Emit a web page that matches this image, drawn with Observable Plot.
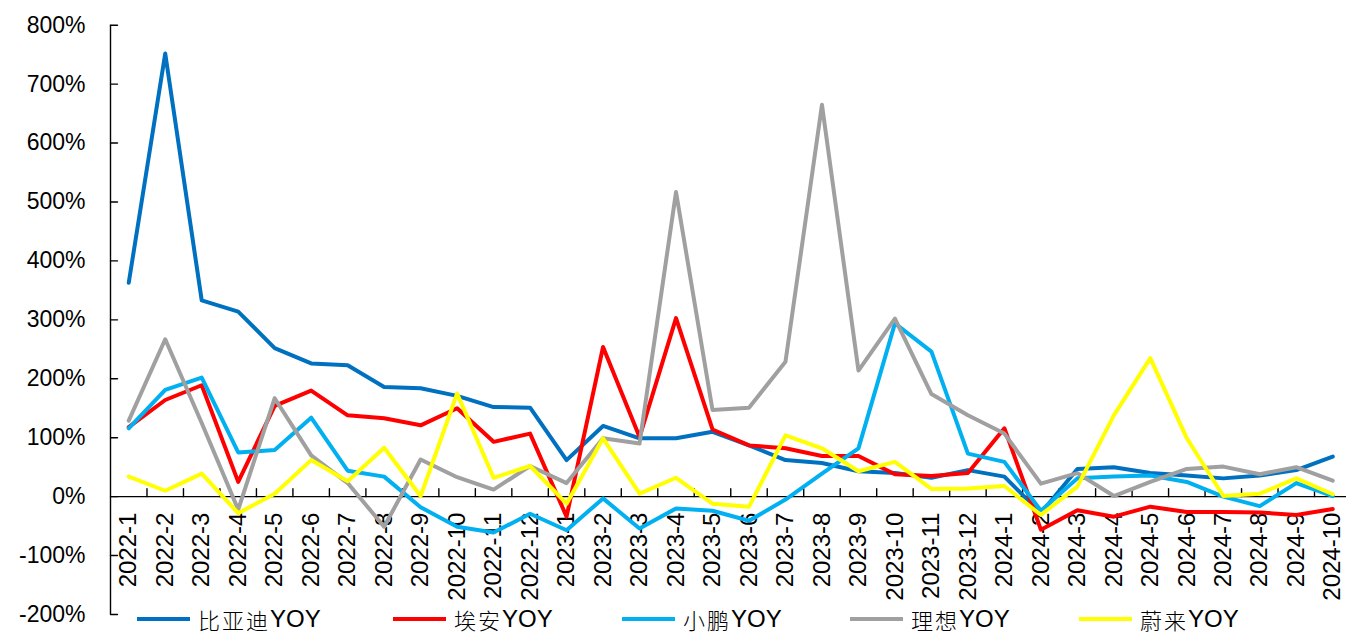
<!DOCTYPE html>
<html><head><meta charset="utf-8">
<script src="https://cdn.jsdelivr.net/npm/d3@7"></script>
<script src="https://cdn.jsdelivr.net/npm/@observablehq/plot@0.6"></script>
<style>
body{margin:0;background:#fff;}
#wrap{position:relative;width:1346px;height:635px;background:#fff;}
#legend{position:absolute;left:0;top:606px;width:1346px;height:26px;}
.item{position:absolute;top:0;height:26px;display:flex;align-items:center;font-size:22px;line-height:26px;color:#000;white-space:nowrap;}
.sw{display:inline-block;width:53px;height:4px;margin-right:8px;}
.cn{font-family:"Noto Sans CJK SC",sans-serif;font-weight:300;letter-spacing:2px;}
.en{font-family:"Liberation Sans",Arial,sans-serif;font-size:24px;}
</style></head>
<body><div id="wrap"><div id="chart"></div><div id="legend"></div></div>
<script>
const months = ["2022-1","2022-2","2022-3","2022-4","2022-5","2022-6","2022-7","2022-8","2022-9","2022-10","2022-11","2022-12",
"2023-1","2023-2","2023-3","2023-4","2023-5","2023-6","2023-7","2023-8","2023-9","2023-10","2023-11","2023-12",
"2024-1","2024-2","2024-3","2024-4","2024-5","2024-6","2024-7","2024-8","2024-9","2024-10"];
const byd   = [363,752,333,314,252,226,223,186,184,171,152,151,62,120,99,99,110,87,62,57,43,40,32,45,34,-28,47,50,40,36,31,36,45,68];
const aion  = [118,164,189,25,154,180,138,133,121,150,93,107,-34,254,101,303,114,87,82,69,69,38,35,40,116,-56,-23,-34,-17,-26,-26,-27,-31,-21];
const xpeng = [116,181,202,75,79,134,44,34,-18,-51,-61,-29,-57,-3,-54,-20,-24,-41,-5,39,82,294,246,73,59,-24,31,34,36,25,0,-16,23,1];
const li    = [129,267,125,-22,167,70,23,-51,63,33,12,52,23,99,90,517,147,151,229,665,214,302,174,138,107,22,40,1,25,47,51,38,50,27];
const nio   = [34,10,39,-28,5,62,26,83,1,175,32,52,-12,99,5,32,-12,-17,104,82,43,59,13,14,18,-31,17,138,235,99,1,5,31,4];
const seriesNames = ["比亚迪YOY","埃安YOY","小鹏YOY","理想YOY","蔚来YOY"];
const seriesCn = ["比亚迪","埃安","小鹏","理想","蔚来"];
const seriesValues = [byd, aion, xpeng, li, nio];
const seriesColors = ["#0070C0","#FF0000","#00B0F0","#A0A0A0","#FFFF00"];
const yTicks = [-200,-100,0,100,200,300,400,500,600,700,800];

const rows = seriesNames.flatMap((name, k) => seriesValues[k].map((v, i) => ({i, v, name})));
const tickShape = {draw(context, l) { context.moveTo(0, 0); context.lineTo(0, -l); }};
const n = months.length;

const chart = Plot.plot({
  width: 1346, height: 635,
  marginLeft: 110, marginRight: 0, marginTop: 25, marginBottom: 21,
  x: {type: "linear", domain: [-0.5, n - 0.5], range: [110, 1350.5], axis: null},
  y: {domain: [-200, 800], range: [614, 24.7], axis: null},
  color: {domain: seriesNames, range: seriesColors},
  style: {fontFamily: "'Liberation Sans', Arial, sans-serif", background: "white", overflow: "visible"},
  marks: [
    Plot.ruleX([-0.5], {y1: -200, y2: 800, stroke: "#000", strokeWidth: 1.4}),
    Plot.vector(yTicks, {x: -0.5, y: d => d, length: 7, rotate: 90, anchor: "start", shape: tickShape, stroke: "#000", strokeWidth: 1.4}),
    Plot.text(yTicks, {x: -0.5, y: d => d, text: d => d + "%", textAnchor: "end", dx: -25, fontSize: 23, fill: "#000"}),
    Plot.ruleY([0], {x1: -0.5, x2: n - 0.5, stroke: "#000", strokeWidth: 1.4}),
    Plot.vector(d3.range(1, n), {x: d => d - 0.5, y: 0, length: 8, rotate: 0, anchor: "start", shape: tickShape, stroke: "#000", strokeWidth: 1.4}),
    Plot.text(months, {x: (d, i) => i, y: 0, text: d => d, rotate: -90, textAnchor: "end", dy: 16, fontSize: 24, fill: "#000"}),
    Plot.line(rows, {x: "i", y: "v", z: "name", stroke: "name", strokeWidth: 4, strokeLinejoin: "round"})
  ]
});
document.getElementById("chart").appendChild(chart);

const legendLefts = [137, 393, 622, 850, 1079];
const legend = document.getElementById("legend");
seriesNames.forEach((name, k) => {
  const it = document.createElement("div");
  it.className = "item";
  it.style.left = legendLefts[k] + "px";
  it.innerHTML = `<span class="sw" style="background:${seriesColors[k]}"></span><span class="cn">${seriesCn[k]}</span><span class="en">YOY</span>`;
  legend.appendChild(it);
});
</script>
</body></html>
